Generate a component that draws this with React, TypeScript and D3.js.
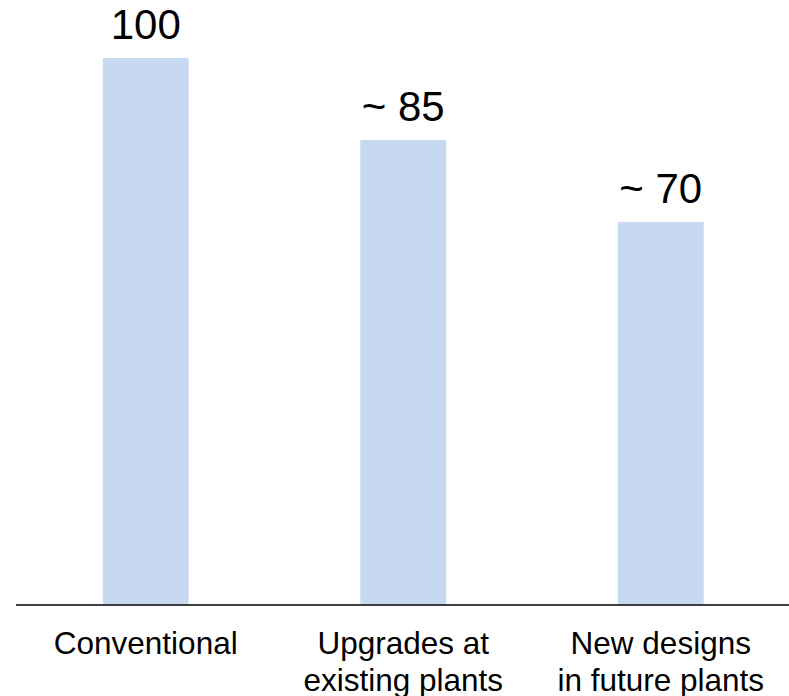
import React from "react";
import * as d3 from "d3";

const categories: string[][] = [
  ["Conventional"],
  ["Upgrades at", "existing plants"],
  ["New designs", "in future plants"],
];
const values: number[] = [100, 85, 70];
const valueLabels: string[] = ["100", "~ 85", "~ 70"];

const W = 789;
const H = 696;

export default function App() {
  const keys = categories.map((_, i) => String(i));
  const x = d3
    .scaleBand<string>()
    .domain(keys)
    .range([17, 789.5])
    .paddingInner(2 / 3)
    .paddingOuter(1 / 3);
  const y = d3.scaleLinear().domain([0, 100]).range([604.5, 58]);
  const font = "'Liberation Sans', Arial, sans-serif";
  return (
    <svg
      width={W}
      height={H}
      style={{ position: "absolute", left: 0, top: 0, background: "#fff" }}
    >
      {values.map((v, i) => (
        <rect
          key={"b" + i}
          x={x(keys[i])}
          y={y(v)}
          width={x.bandwidth()}
          height={y(0) - y(v)}
          fill="#c6d9f0"
        />
      ))}
      {values.map((v, i) => (
        <text
          key={"v" + i}
          x={(x(keys[i]) as number) + x.bandwidth() / 2}
          y={y(v) - 19}
          textAnchor="middle"
          fontFamily={font}
          fontSize={42}
          fill="#000"
        >
          {valueLabels[i]}
        </text>
      ))}
      <line x1={16} x2={789} y1={605} y2={605} stroke="#000" strokeWidth={1.3} />
      {categories.map((lines, i) => (
        <text
          key={"c" + i}
          x={(x(keys[i]) as number) + x.bandwidth() / 2}
          y={654}
          textAnchor="middle"
          fontFamily={font}
          fontSize={31.5}
          fill="#000"
        >
          {lines.map((l, j) => (
            <tspan
              key={j}
              x={(x(keys[i]) as number) + x.bandwidth() / 2}
              dy={j === 0 ? 0 : 37}
            >
              {l}
            </tspan>
          ))}
        </text>
      ))}
    </svg>
  );
}
